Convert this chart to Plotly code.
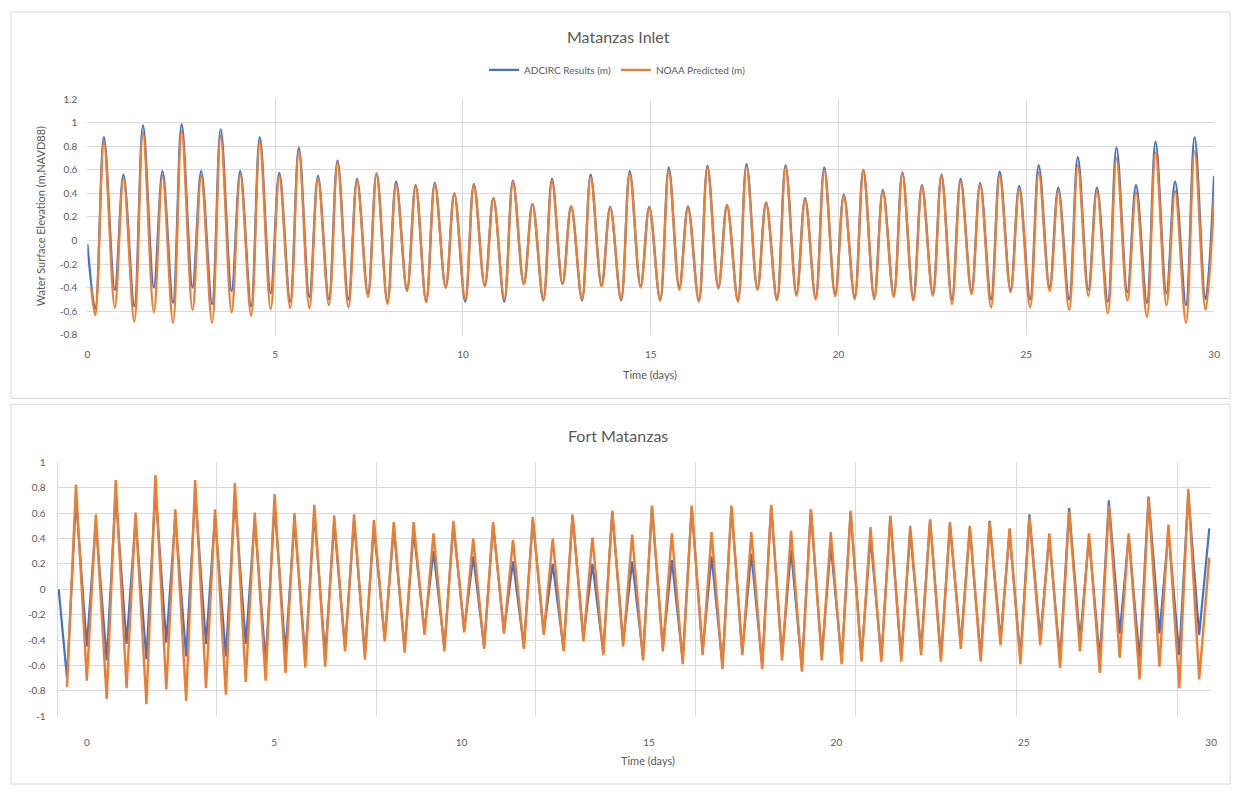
import plotly.graph_objects as go

W, H = 1238, 792
BLUE = "#4472C4"
ORANGE = "#ED7D31"
GRID = "#D9D9D9"
TXT = "#595959"
FONT = "Lato, 'Open Sans', sans-serif"

# ---------------- Matanzas Inlet (top) ----------------
top_trough_t = [0.21, 0.73, 1.25, 1.77, 2.28, 2.80, 3.32, 3.84, 4.36, 4.88,
                5.40, 5.91, 6.43, 6.95, 7.47, 7.99, 8.51, 9.02, 9.54, 10.06,
                10.58, 11.10, 11.62, 12.14, 12.65, 13.17, 13.69, 14.21, 14.73, 15.25,
                15.76, 16.28, 16.80, 17.32, 17.84, 18.36, 18.88, 19.39, 19.91, 20.43,
                20.95, 21.47, 21.99, 22.51, 23.02, 23.54, 24.06, 24.58, 25.10, 25.62,
                26.14, 26.65, 27.17, 27.69, 28.21, 28.73, 29.25, 29.77]
top_peak_t = [0.44, 0.96, 1.48, 2.00, 2.51, 3.03, 3.55, 4.07, 4.59, 5.11,
              5.63, 6.14, 6.66, 7.18, 7.70, 8.22, 8.74, 9.25, 9.77, 10.29,
              10.81, 11.33, 11.85, 12.37, 12.88, 13.40, 13.92, 14.44, 14.96, 15.48,
              15.99, 16.51, 17.03, 17.55, 18.07, 18.59, 19.11, 19.62, 20.14, 20.66,
              21.18, 21.70, 22.22, 22.74, 23.25, 23.77, 24.29, 24.81, 25.33, 25.85,
              26.37, 26.88, 27.40, 27.92, 28.44, 28.96, 29.48]

top_noaa_peaks = [0.84, 0.53, 0.92, 0.55, 0.93, 0.55, 0.89, 0.56, 0.84, 0.55,
                  0.76, 0.53, 0.66, 0.51, 0.57, 0.48, 0.46, 0.48, 0.40, 0.47,
                  0.36, 0.50, 0.31, 0.51, 0.29, 0.54, 0.28, 0.57, 0.28, 0.60,
                  0.28, 0.62, 0.30, 0.63, 0.32, 0.62, 0.35, 0.60, 0.38, 0.60,
                  0.42, 0.57, 0.46, 0.55, 0.50, 0.48, 0.55, 0.44, 0.58, 0.42,
                  0.64, 0.42, 0.70, 0.41, 0.75, 0.42, 0.76]
top_noaa_troughs = [-0.635, -0.57, -0.69, -0.61, -0.70, -0.59, -0.70, -0.61, -0.64, -0.585,
                    -0.575, -0.575, -0.55, -0.57, -0.48, -0.54, -0.43, -0.525, -0.40, -0.50,
                    -0.39, -0.50, -0.37, -0.50, -0.37, -0.50, -0.39, -0.50, -0.40, -0.51,
                    -0.42, -0.52, -0.41, -0.52, -0.42, -0.51, -0.47, -0.50, -0.475, -0.50,
                    -0.50, -0.48, -0.51, -0.47, -0.54, -0.455, -0.57, -0.44, -0.57, -0.43,
                    -0.59, -0.47, -0.62, -0.51, -0.65, -0.55, -0.70, -0.59]
top_adcirc_peaks = [0.88, 0.56, 0.98, 0.59, 0.99, 0.59, 0.945, 0.59, 0.88, 0.575,
                    0.79, 0.55, 0.68, 0.525, 0.57, 0.50, 0.47, 0.49, 0.40, 0.48,
                    0.36, 0.51, 0.31, 0.525, 0.29, 0.56, 0.285, 0.59, 0.285, 0.62,
                    0.29, 0.635, 0.30, 0.65, 0.325, 0.64, 0.36, 0.62, 0.39, 0.60,
                    0.43, 0.58, 0.47, 0.56, 0.525, 0.49, 0.585, 0.465, 0.64, 0.45,
                    0.71, 0.45, 0.79, 0.47, 0.84, 0.50, 0.88]
top_adcirc_troughs = [-0.58, -0.42, -0.56, -0.40, -0.53, -0.40, -0.54, -0.43, -0.56, -0.45,
                      -0.52, -0.48, -0.50, -0.50, -0.45, -0.52, -0.42, -0.52, -0.40, -0.52,
                      -0.38, -0.52, -0.37, -0.51, -0.37, -0.51, -0.38, -0.51, -0.39, -0.51,
                      -0.40, -0.51, -0.40, -0.51, -0.41, -0.50, -0.45, -0.49, -0.46, -0.48,
                      -0.48, -0.46, -0.49, -0.45, -0.50, -0.43, -0.50, -0.42, -0.50, -0.40,
                      -0.50, -0.42, -0.52, -0.44, -0.53, -0.45, -0.55, -0.50]
top_adcirc_start = (0.0, -0.03)
top_adcirc_end = (30.0, 0.55)
top_noaa_start = (0.10, -0.40)
top_noaa_end = (30.0, 0.38)

# ---------------- Fort Matanzas (bottom) ----------------
bot_trough_t = [-0.53, 0.00, 0.53, 1.06, 1.59, 2.12, 2.65, 3.18, 3.71, 4.24,
                4.77, 5.30, 5.83, 6.36, 6.89, 7.42, 7.95, 8.48, 9.01, 9.54,
                10.07, 10.60, 11.13, 11.66, 12.19, 12.72, 13.25, 13.78, 14.31, 14.84,
                15.37, 15.90, 16.43, 16.96, 17.49, 18.02, 18.55, 19.08, 19.61, 20.14,
                20.67, 21.20, 21.73, 22.26, 22.79, 23.32, 23.85, 24.38, 24.91, 25.44,
                25.97, 26.50, 27.03, 27.56, 28.09, 28.62, 29.15, 29.68]
bot_peak_t = [-0.29, 0.24, 0.77, 1.30, 1.83, 2.36, 2.89, 3.42, 3.95, 4.48,
              5.01, 5.54, 6.07, 6.60, 7.13, 7.66, 8.19, 8.72, 9.25, 9.78,
              10.31, 10.84, 11.37, 11.90, 12.43, 12.96, 13.49, 14.02, 14.55, 15.08,
              15.61, 16.14, 16.67, 17.20, 17.73, 18.26, 18.79, 19.32, 19.85, 20.38,
              20.91, 21.44, 21.97, 22.50, 23.03, 23.56, 24.09, 24.62, 25.15, 25.68,
              26.21, 26.74, 27.27, 27.80, 28.33, 28.86, 29.39]

bot_noaa_peaks = [0.825, 0.59, 0.86, 0.605, 0.90, 0.63, 0.86, 0.63, 0.84, 0.605,
                  0.75, 0.60, 0.665, 0.58, 0.59, 0.545, 0.53, 0.53, 0.44, 0.54,
                  0.40, 0.53, 0.39, 0.57, 0.40, 0.59, 0.41, 0.62, 0.43, 0.66,
                  0.44, 0.66, 0.45, 0.66, 0.45, 0.665, 0.46, 0.63, 0.45, 0.62,
                  0.49, 0.58, 0.50, 0.55, 0.53, 0.50, 0.53, 0.48, 0.57, 0.44,
                  0.61, 0.44, 0.66, 0.44, 0.72, 0.51, 0.79]
bot_noaa_troughs = [-0.77, -0.72, -0.865, -0.78, -0.905, -0.79, -0.88, -0.78, -0.83, -0.73,
                    -0.72, -0.66, -0.615, -0.61, -0.49, -0.555, -0.41, -0.50, -0.36, -0.49,
                    -0.34, -0.47, -0.35, -0.47, -0.36, -0.49, -0.41, -0.52, -0.45, -0.56,
                    -0.49, -0.59, -0.52, -0.63, -0.52, -0.63, -0.56, -0.65, -0.56, -0.59,
                    -0.57, -0.57, -0.57, -0.52, -0.57, -0.47, -0.57, -0.44, -0.59, -0.44,
                    -0.62, -0.49, -0.66, -0.54, -0.71, -0.61, -0.78, -0.71]
bot_adcirc_peaks = [0.71, 0.53, 0.75, 0.55, 0.78, 0.57, 0.75, 0.57, 0.73, 0.55,
                    0.66, 0.54, 0.60, 0.52, 0.54, 0.49, 0.48, 0.46, 0.30, 0.51,
                    0.26, 0.51, 0.22, 0.55, 0.20, 0.58, 0.20, 0.61, 0.22, 0.65,
                    0.23, 0.65, 0.26, 0.65, 0.28, 0.66, 0.31, 0.63, 0.35, 0.61,
                    0.41, 0.57, 0.45, 0.55, 0.51, 0.48, 0.54, 0.45, 0.59, 0.41,
                    0.64, 0.41, 0.70, 0.42, 0.73, 0.46, 0.76]
bot_adcirc_troughs = [-0.70, -0.45, -0.56, -0.43, -0.55, -0.42, -0.53, -0.43, -0.53, -0.43,
                      -0.57, -0.50, -0.54, -0.52, -0.46, -0.51, -0.39, -0.47, -0.33, -0.46,
                      -0.32, -0.45, -0.33, -0.45, -0.34, -0.47, -0.38, -0.50, -0.42, -0.53,
                      -0.46, -0.56, -0.49, -0.60, -0.50, -0.60, -0.53, -0.62, -0.53, -0.56,
                      -0.54, -0.54, -0.54, -0.48, -0.54, -0.43, -0.53, -0.40, -0.54, -0.38,
                      -0.55, -0.40, -0.55, -0.35, -0.55, -0.35, -0.52, -0.36]
bot_adcirc_start = (-0.75, 0.0)
bot_adcirc_end = (29.95, 0.48)
bot_noaa_end = (29.95, 0.25)

# axis ticks / gridlines
x_ticks = [0, 5, 10, 15, 20, 25, 30]
top_y_ticks = [-0.8, -0.6, -0.4, -0.2, 0, 0.2, 0.4, 0.6, 0.8, 1.0, 1.2]
top_y_labels = ["-0.8", "-0.6", "-0.4", "-0.2", "0", "0.2", "0.4", "0.6", "0.8", "1", "1.2"]
bot_y_ticks = [-1.0, -0.8, -0.6, -0.4, -0.2, 0, 0.2, 0.4, 0.6, 0.8, 1.0]
bot_y_labels = ["-1", "-0.8", "-0.6", "-0.4", "-0.2", "0", "0.2", "0.4", "0.6", "0.8", "1"]
bot_x_gridlines = [3.45, 7.73, 11.96, 16.25, 20.51, 24.81, 29.10]


def build(trough_t, trough_v, peak_t, peak_v, start=None, end=None):
    assert len(trough_t) == len(trough_v) and len(peak_t) == len(peak_v)
    xs, ys = [], []
    if start:
        xs.append(start[0]); ys.append(start[1])
    for i in range(len(trough_t)):
        xs.append(trough_t[i]); ys.append(trough_v[i])
        if i < len(peak_t):
            xs.append(peak_t[i]); ys.append(peak_v[i])
    if end:
        xs.append(end[0]); ys.append(end[1])
    return xs, ys


def px_x(p):
    return p / W


def px_y(p):
    return 1 - p / H


def label(text, xp, yp, size, angle=0):
    return dict(text=text, x=px_x(xp), y=px_y(yp), xref="paper", yref="paper",
                xanchor="center", yanchor="middle", textangle=angle,
                showarrow=False, font=dict(family=FONT, size=size, color=TXT))


fig = go.Figure()

x, y = build(top_trough_t, top_adcirc_troughs, top_peak_t, top_adcirc_peaks,
             top_adcirc_start, top_adcirc_end)
fig.add_trace(go.Scatter(x=x, y=y, mode="lines", name="ADCIRC Results (m)",
                         line=dict(color=BLUE, width=2.3, shape="spline", smoothing=1.0),
                         xaxis="x", yaxis="y"))
x, y = build(top_trough_t, top_noaa_troughs, top_peak_t, top_noaa_peaks,
             top_noaa_start, top_noaa_end)
fig.add_trace(go.Scatter(x=x, y=y, mode="lines", name="NOAA Predicted (m)",
                         line=dict(color=ORANGE, width=2.3, shape="spline", smoothing=1.0),
                         xaxis="x", yaxis="y"))

x, y = build(bot_trough_t, bot_adcirc_troughs, bot_peak_t, bot_adcirc_peaks,
             bot_adcirc_start, bot_adcirc_end)
fig.add_trace(go.Scatter(x=x, y=y, mode="lines", showlegend=False,
                         line=dict(color=BLUE, width=2.2),
                         xaxis="x2", yaxis="y2"))
x, y = build(bot_trough_t, bot_noaa_troughs, bot_peak_t, bot_noaa_peaks,
             None, bot_noaa_end)
fig.add_trace(go.Scatter(x=x, y=y, mode="lines", showlegend=False,
                         line=dict(color=ORANGE, width=2.4),
                         xaxis="x2", yaxis="y2"))

tickfont = dict(family=FONT, size=10, color=TXT)

fig.update_layout(
    width=W, height=H,
    margin=dict(l=0, r=0, t=0, b=0),
    paper_bgcolor="white", plot_bgcolor="white",
    font=dict(family=FONT, color=TXT),
    hovermode=False,
    legend=dict(orientation="h", x=0.5, xanchor="center", y=px_y(64), yanchor="middle",
                font=dict(family=FONT, size=10, color=TXT), itemwidth=30,
                bgcolor="rgba(0,0,0,0)"),
    xaxis=dict(domain=[px_x(85), px_x(1220)], range=[0, 30], anchor="y",
               tickmode="array", tickvals=x_ticks, showgrid=True, gridcolor=GRID,
               gridwidth=1, zeroline=False, showline=False, ticks="",
               tickfont=tickfont, ticklabelstandoff=12),
    yaxis=dict(domain=[px_y(333), px_y(94)], range=[-0.8, 1.2], anchor="x",
               tickmode="array", tickvals=top_y_ticks, ticktext=top_y_labels,
               showgrid=True, gridcolor=GRID, gridwidth=1, zeroline=False,
               showline=False, ticks="", tickfont=tickfont, ticklabelstandoff=9),
    xaxis2=dict(domain=[px_x(55), px_x(1217)], range=[-0.78, 30], anchor="y2",
                tickmode="array", tickvals=x_ticks, showgrid=False, zeroline=False,
                showline=False, ticks="", tickfont=tickfont, ticklabelstandoff=19,
                minor=dict(tickmode="array", tickvals=bot_x_gridlines, showgrid=True,
                           gridcolor=GRID, gridwidth=1, ticks="")),
    yaxis2=dict(domain=[px_y(721), px_y(463)], range=[-1.0, 1.0], anchor="x2",
                tickmode="array", tickvals=bot_y_ticks, ticktext=bot_y_labels,
                showgrid=True, gridcolor=GRID, gridwidth=1, zeroline=False,
                showline=True, linecolor=GRID, linewidth=1, ticks="",
                tickfont=tickfont, ticklabelstandoff=9),
    shapes=[
        dict(type="rect", xref="paper", yref="paper", x0=px_x(8), x1=px_x(1236),
             y0=px_y(398), y1=px_y(5), line=dict(color=GRID, width=1), layer="below"),
        dict(type="rect", xref="paper", yref="paper", x0=px_x(8), x1=px_x(1236),
             y0=px_y(790), y1=px_y(404), line=dict(color=GRID, width=1), layer="below"),
    ],
    annotations=[
        label("Matanzas Inlet", 620, 30, 16),
        label("Fort Matanzas", 620, 436, 16),
        label("Time (days)", 652, 374, 11),
        label("Time (days)", 650, 766, 11),
        label("Water Surface Elevation (m,NAVD88)", 38, 213, 11, -90),
    ],
)

fig.write_html(
    "out.html",
    config={"displayModeBar": False, "staticPlot": True},
    post_script=(
        "var d=document.getElementById('{plot_id}');"
        "d.style.position='fixed';d.style.top='0px';d.style.left='0px';"
        "document.documentElement.style.margin='0';"
        "document.body.style.margin='0';document.body.style.padding='0';"
        "document.documentElement.style.overflow='hidden';"
        "document.body.style.overflow='hidden';"
    ),
)
